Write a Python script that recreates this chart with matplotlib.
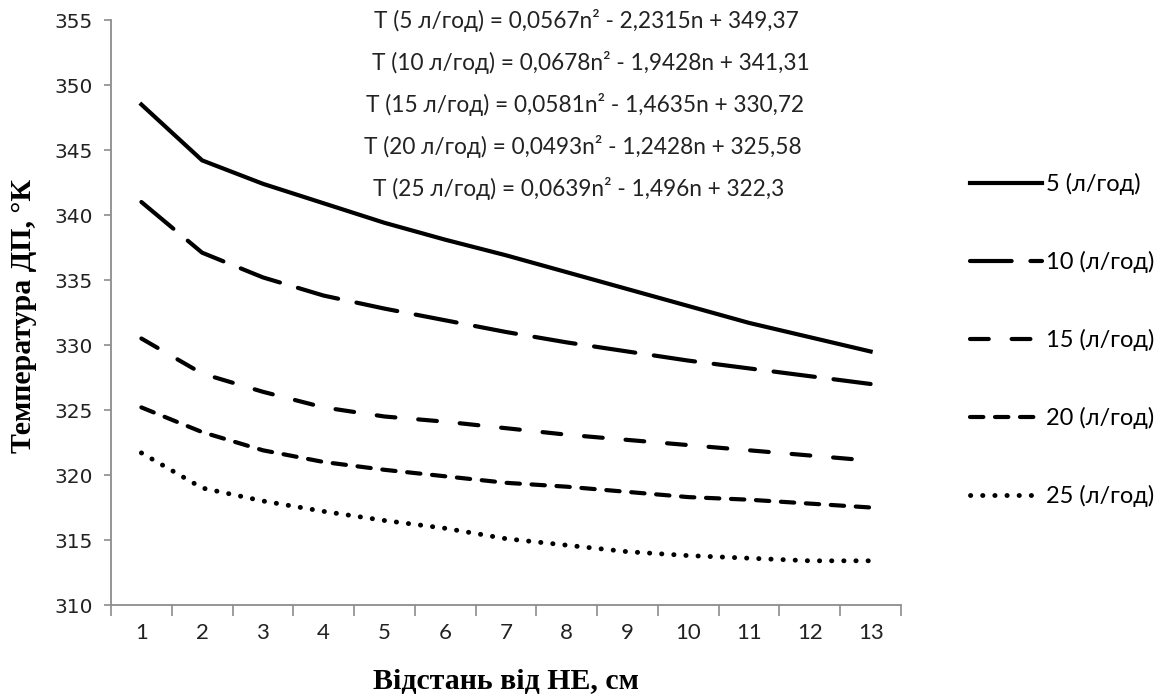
import matplotlib
matplotlib.use("Agg")
import matplotlib.pyplot as plt
import numpy as np

# Data
distance = list(range(1, 14))
series_labels = ["5 (л/год)", "10 (л/год)", "15 (л/год)", "20 (л/год)", "25 (л/год)"]
t_5 = [348.5, 344.2, 342.4, 340.9, 339.4, 338.1, 336.9, 335.6, 334.3, 333.0, 331.7, 330.6, 329.5]
t_10 = [341.0, 337.1, 335.2, 333.8, 332.8, 331.9, 331.0, 330.2, 329.5, 328.8, 328.2, 327.6, 327.0]
t_15 = [330.5, 327.8, 326.4, 325.2, 324.5, 324.1, 323.6, 323.1, 322.7, 322.3, 321.9, 321.5, 321.1]
t_20 = [325.2, 323.3, 321.9, 321.0, 320.4, 319.9, 319.4, 319.1, 318.7, 318.3, 318.1, 317.8, 317.5]
t_25 = [321.7, 319.0, 318.0, 317.2, 316.5, 315.9, 315.1, 314.6, 314.1, 313.8, 313.6, 313.4, 313.4]
equations = [
    "T (5 л/год) = 0,0567n² - 2,2315n + 349,37",
    "T (10 л/год) = 0,0678n² - 1,9428n + 341,31",
    "T (15 л/год) = 0,0581n² - 1,4635n + 330,72",
    "T (20 л/год) = 0,0493n² - 1,2428n + 325,58",
    "T (25 л/год) = 0,0639n² - 1,496n + 322,3",
]
y_ticks = list(range(310, 356, 5))
x_label = "Відстань від НЕ, см"
y_label = "Температура ДП, °К"

W, H = 1171, 700
fig = plt.figure(figsize=(W / 100, H / 100), dpi=100)
ax = fig.add_axes([111 / W, 1 - 605 / H, (901 - 111) / W, (605 - 20) / H])

styles = [
    dict(linestyle="-", lw=3.0),
    dict(linestyle=(0, (10, 4.5)), dash_capstyle="round", lw=3.0),
    dict(linestyle=(0, (4.5, 5.5)), dash_capstyle="round", lw=3.0),
    dict(linestyle=(0, (3.2, 2.8)), dash_capstyle="round", lw=3.0),
    dict(linestyle=(0, (0.05, 2.45)), dash_capstyle="round", lw=3.5),
]
all_series = [t_5, t_10, t_15, t_20, t_25]
handles = []
for vals, lab, st in zip(all_series, series_labels, styles):
    h, = ax.plot(distance, vals, color="black", label=lab, **st)
    handles.append(h)

ax.set_xlim(0.5, 13.5)
ax.set_ylim(310, 355)
ax.set_yticks(y_ticks)
ax.set_xticks(distance)
ax.set_xticks(np.arange(0.5, 14.0, 1.0), minor=True)

for s in ["top", "right"]:
    ax.spines[s].set_visible(False)
for s in ["left", "bottom"]:
    ax.spines[s].set_color("#8c8c8c")
    ax.spines[s].set_linewidth(1.3)

ax.tick_params(axis="y", which="major", length=5, width=1.2, color="#8c8c8c",
               labelsize=14.5, pad=8, labelcolor="#222222")
ax.tick_params(axis="x", which="major", length=0, pad=13, labelsize=16, labelcolor="#222222")
ax.tick_params(axis="x", which="minor", length=8, width=1.2, color="#8c8c8c")
for t in ax.get_xticklabels():
    t.set_fontfamily("Lato")
for t in ax.get_yticklabels():
    t.set_fontfamily("DejaVu Sans")

fig.text(506 / W, 1 - 682 / H, x_label, ha="center", va="center",
         family="Liberation Serif", weight="bold", fontsize=21.5)
fig.text(24 / W, 1 - 316 / H, y_label, ha="center", va="center", rotation=90,
         family="Liberation Serif", weight="bold", fontsize=21.5)

eq_y = [20, 62, 104, 147, 188]
eq_x = [586, 591, 585, 583, 579]
for txt, xx, yy in zip(equations, eq_x, eq_y):
    fig.text(xx / W, 1 - yy / H, txt, ha="center", va="center",
             family="Lato", fontsize=16.3, color="#222222")

leg = fig.legend(handles=handles, loc="upper left",
                 bbox_to_anchor=(970 / W, 1 - 173 / H), frameon=False,
                 prop=dict(family="Lato", size=17), handlelength=3.05,
                 handletextpad=0.15, labelspacing=2.37, borderpad=0, borderaxespad=0)

fig.savefig("out.png", dpi=100, facecolor="white")
